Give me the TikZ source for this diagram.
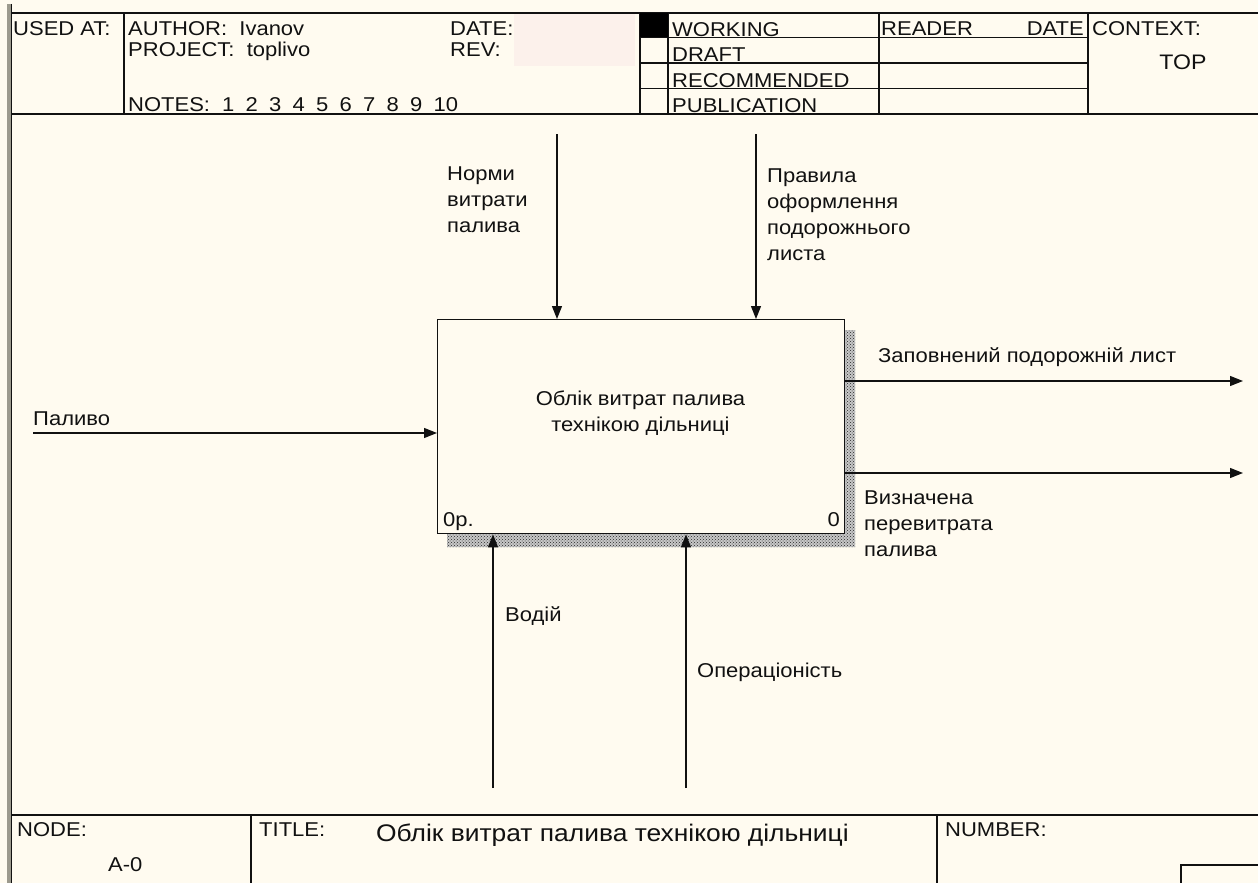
\documentclass[tikz,border=0pt]{standalone}
\usepackage{fontspec}
\setmainfont{Liberation Sans}[FakeStretch=1.1]
\usetikzlibrary{arrows.meta,patterns}

\definecolor{paper}{HTML}{FFFBF0}
\definecolor{datefield}{HTML}{FCF1EB}
\definecolor{rim}{HTML}{9C9A8E}
\definecolor{ink}{HTML}{111111}

\tikzset{
  rule/.style={draw=ink, line width=1.4pt},
  hdr/.style={inner sep=0, anchor=base west, text=ink, font=\fontsize{20}{17}\selectfont},
  lbl/.style={inner sep=0, anchor=north west, align=left, text=ink, font=\fontsize{20}{26}\selectfont},
  flow/.style={draw=ink, line width=1.3pt, -{Triangle[length=13pt,width=10pt]}},
}

\begin{document}
\begin{tikzpicture}[x=1pt, y=-1pt]
  % sheet
  \useasboundingbox (0,0) rectangle (1258,883);
  \fill[paper] (0,0) rectangle (1258,883);
  \fill[rim] (7,4) rectangle (11,883);
  \draw[rule] (11.5,4) -- (11.5,883);

  % ---------- header ----------
  \fill[datefield] (514,14) rectangle (635,66);
  \draw[rule] (11,13) -- (1258,13);
  \draw[rule] (11,114) -- (1258,114);
  \draw[rule] (124,13) -- (124,114);
  \draw[rule] (640,13) -- (640,114);
  \draw[rule] (668,13) -- (668,114);
  \draw[rule] (879,13) -- (879,114);
  \draw[rule] (1088,13) -- (1088,114);
  \foreach \yy in {37.5,63,88.5} \draw[rule] (640,\yy) -- (1088,\yy);
  \fill[black] (640,13) rectangle (668,37.5);

  \node[hdr] (usedat) at (13,36) {USED AT:};
  \node[hdr] (author) at (128,36) {AUTHOR:~~Ivanov};
  \node[hdr] (project) at (128,57) {PROJECT:~~toplivo};
  \node[hdr] (notes) at (128,111) {NOTES:};
  \foreach \n [count=\i from 0] in {1,2,3,4,5,6,7,8,9,10}
    \node[hdr] (note\n) at (222+23.5*\i,111) {\n};
  \node[hdr] (date) at (450,36) {DATE:};
  \node[hdr] (rev) at (450,57) {REV:};
  \node[hdr] (working) at (672,36.5) {WORKING};
  \node[hdr] (draft) at (672,62) {DRAFT};
  \node[hdr] (recom) at (672,87.5) {RECOMMENDED};
  \node[hdr] (publ) at (672,112.5) {PUBLICATION};
  \node[hdr] (reader) at (881,36) {READER};
  \node[hdr, anchor=base east] (rdate) at (1084,36) {DATE};
  \node[hdr] (context) at (1092,36) {CONTEXT:};
  \node[hdr, anchor=base, font=\fontsize{21}{17}\selectfont] (top) at (1183,70) {TOP};

  % ---------- footer ----------
  \draw[rule] (11,815) -- (1258,815);
  \draw[rule] (251,815) -- (251,883);
  \draw[rule] (937,815) -- (937,883);
  \draw[rule] (1181,883) -- (1181,865) -- (1258,865);
  \node[hdr] (nodelbl) at (17,836) {NODE:};
  \node[hdr] (nodeval) at (108,871) {A-0};
  \node[hdr] (titlelbl) at (259,836) {TITLE:};
  \node[hdr, font=\fontsize{24}{26}\selectfont] (titleval) at (376,841)
    {Облік витрат палива технікою дільниці};
  \node[hdr] (numlbl) at (945,836) {NUMBER:};

  % ---------- activity box ----------
  \fill[black!22] (844,330) rectangle (855,547) (447,533) rectangle (844,547);
  \fill[pattern=crosshatch dots, pattern color=black!85]
    (844,330) rectangle (855,547) (447,533) rectangle (844,547);
  \node[rule, fill=paper, minimum width=407pt, minimum height=214pt,
        anchor=north west, inner sep=0] (fn) at (437,319) {};
  \node[lbl, anchor=north, align=center] (fntext) at (640.5,391)
    {Облік витрат палива\\технікою дільниці};
  \node[hdr] (fnref) at (443,526) {0p.};
  \node[hdr, anchor=base east] (fnnum) at (840,526) {0};

  % ---------- arrows ----------
  \coordinate (ctl1) at (557,134);
  \coordinate (ctl2) at (756,134);
  \coordinate (inp) at (33,433);
  \coordinate (out1) at (1243,381);
  \coordinate (out2) at (1243,473);
  \coordinate (mec1) at (493,788);
  \coordinate (mec2) at (686,788);

  \draw[flow] (ctl1) -- (ctl1 |- fn.north);
  \draw[flow] (ctl2) -- (ctl2 |- fn.north);
  \draw[flow] (inp) -- (inp -| fn.west);
  \draw[flow] (out1 -| fn.east) -- (out1);
  \draw[flow] (out2 -| fn.east) -- (out2);
  \draw[flow] (mec1) -- (mec1 |- fn.south);
  \draw[flow] (mec2) -- (mec2 |- fn.south);

  % ---------- arrow labels ----------
  \node[lbl] (ctl1lbl) at (447,167) {Норми\\витрати\\палива};
  \node[lbl] (ctl2lbl) at (767,169) {Правила\\оформлення\\подорожнього\\листа};
  \node[lbl, anchor=base west] (inplbl) at (33,425) {Паливо};
  \node[lbl] (out1lbl) at (878,347) {Заповнений подорожній лист};
  \node[lbl] (out2lbl) at (864,491) {Визначена\\перевитрата\\палива};
  \node[lbl] (mec1lbl) at (505,606) {Водій};
  \node[lbl] (mec2lbl) at (697,663) {Операціоність};
\end{tikzpicture}
\end{document}
